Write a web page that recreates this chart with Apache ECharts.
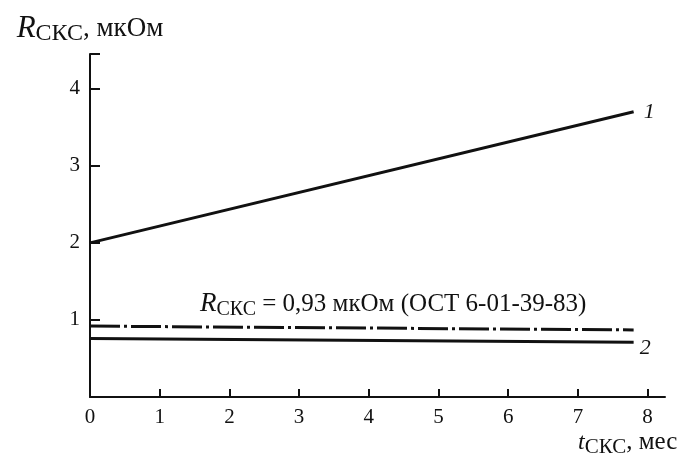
<!DOCTYPE html>
<html><head><meta charset="utf-8">
<script src="https://cdn.jsdelivr.net/npm/echarts@6/dist/echarts.min.js"></script>
<style>html,body{margin:0;padding:0;background:#fff}#c{width:683px;height:465px}</style>
</head><body><div id="c"></div>
<script>
const xTicks = [0,1,2,3,4,5,6,7,8];
const yTicks = [1,2,3,4];
const line1 = [[0,2.0],[7.8,3.7]];
const line2 = [[0,0.76],[7.8,0.71]];
const normLine = [[0,0.92],[7.8,0.87]];
const normLabelPos = [4.35,0.93];

const F = 'Liberation Serif, Times New Roman, serif';
const chart = echarts.init(document.getElementById('c'));
chart.setOption({
  animation:false,
  grid:{left:90,right:18,top:54,bottom:68},
  xAxis:{type:'value',min:0,max:8.25,interval:1,
    axisLine:{lineStyle:{color:'#111',width:2}},
    axisTick:{inside:true,length:8,lineStyle:{color:'#111',width:2}},
    splitLine:{show:false},
    axisLabel:{color:'#111',fontFamily:F,fontSize:21,margin:10,showMaxLabel:false,
      formatter:v=>xTicks.includes(v)?String(v):''}},
  yAxis:{type:'value',min:0,max:4.45,interval:1,
    name:'{i|R}{s|СКС}{n|, мкОм}',nameLocation:'end',nameGap:8,
    nameTextStyle:{rich:{i:{fontFamily:F,fontStyle:'italic',fontSize:31,color:'#111'},
      s:{fontFamily:F,fontSize:24,color:'#111',padding:[11,0,0,0]},
      n:{fontFamily:F,fontSize:27,color:'#111'}}},
    axisLine:{lineStyle:{color:'#111',width:2}},
    axisTick:{inside:true,length:10,lineStyle:{color:'#111',width:2}},
    splitLine:{show:false},
    axisLabel:{color:'#111',fontFamily:F,fontSize:21,margin:10,
      formatter:v=>yTicks.includes(v)?String(v):''}},
  graphic:[{type:'text',left:578,top:430,style:{
    text:'{i|t}{s|СКС}{n|, мес}',
    rich:{i:{fontFamily:F,fontStyle:'italic',fontSize:24,fill:'#111'},
      s:{fontFamily:F,fontSize:21,fill:'#111',padding:[9,0,0,0]},
      n:{fontFamily:F,fontSize:25,fill:'#111'}}}}],
  series:[
    {type:'line',data:line1,symbol:'none',lineStyle:{color:'#111',width:3},
      endLabel:{show:true,formatter:'1',fontFamily:F,fontStyle:'italic',fontSize:22,color:'#111',distance:10}},
    {type:'line',data:line2,symbol:'none',lineStyle:{color:'#111',width:3},
      endLabel:{show:true,formatter:'2',fontFamily:F,fontStyle:'italic',fontSize:22,color:'#111',distance:6,offset:[0,6]}},
    {type:'line',data:normLine,symbol:'none',lineStyle:{color:'#111',width:3,type:[30,4,3,4]},
      markPoint:{symbol:'circle',symbolSize:2,itemStyle:{color:'rgba(0,0,0,0)'},
        data:[{coord:normLabelPos}],
        label:{show:true,position:'top',distance:5,
          formatter:'{i|R}{s|СКС}{n| = 0,93 мкОм (ОСТ 6-01-39-83)}',
          rich:{i:{fontFamily:F,fontStyle:'italic',fontSize:27,color:'#111'},
            s:{fontFamily:F,fontSize:20,color:'#111',padding:[10,0,0,0]},
            n:{fontFamily:F,fontSize:25,color:'#111'}}}}}
  ]
});
</script></body></html>
